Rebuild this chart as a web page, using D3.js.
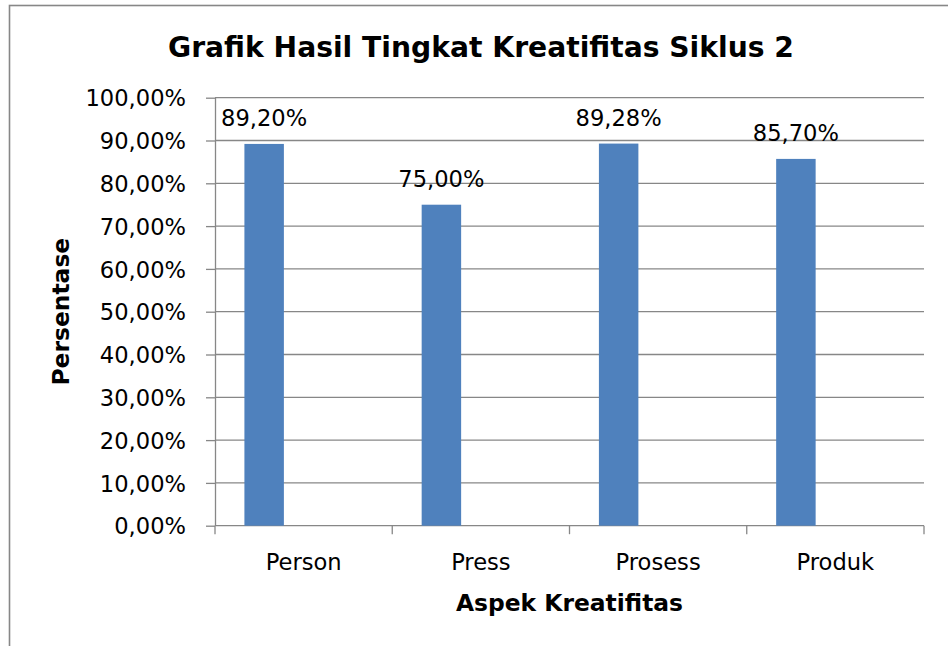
<!DOCTYPE html>
<html>
<head>
<meta charset="utf-8">
<script src="https://cdn.jsdelivr.net/npm/d3@7"></script>
<style>
  body { margin: 0; background: #fff; }
  svg { display: block; }
</style>
</head>
<body>
<svg width="948" height="646"></svg>
<script>
// data
let categories = ["Person", "Press", "Prosess", "Produk"];
let values = [89.20, 75.00, 89.28, 85.70];
let seriesSlots = ["Siklus 2", "s2", "s3"]; // excel kept 3 series slots, only the first has data
let yTicks = [0, 10, 20, 30, 40, 50, 60, 70, 80, 90, 100];

let title = "Grafik Hasil Tingkat Kreatifitas Siklus 2";
let xTitle = "Aspek Kreatifitas";
let yTitle = "Persentase";

let margin = { top: 97.7, right: 24, bottom: 120.3, left: 215 };
let svg = d3.select("svg");
let W = 948, H = 646;
let plotW = W - margin.left - margin.right;
let plotH = H - margin.top - margin.bottom;

let idLocale = d3.formatLocale({ decimal: ",", thousands: ".", grouping: [3], currency: ["", ""] });
let fmt = idLocale.format(".2f");
let pct = d => fmt(d) + "%";

let gridColor = "#878787";
let font = "'DejaVu Sans', Verdana, sans-serif";

// outer chart frame (runs off the right and bottom edge)
svg.append("rect")
  .attr("x", 9.5).attr("y", 5.5)
  .attr("width", 960).attr("height", 700)
  .attr("fill", "none")
  .attr("stroke", gridColor)
  .attr("stroke-width", 1.6);

let x0 = d3.scaleBand().domain(categories).range([0, plotW]).paddingInner(0).paddingOuter(0);
let x1 = d3.scaleBand().domain(seriesSlots).range([0, x0.bandwidth()]).paddingInner(0).paddingOuter(0.745);
let y = d3.scaleLinear().domain([0, 100]).range([plotH, 0]);

let g = svg.append("g").attr("transform", "translate(" + margin.left + "," + margin.top + ")");

// gridlines
g.selectAll("line.grid")
  .data(yTicks.filter(d => d > 0))
  .enter().append("line")
  .attr("class", "grid")
  .attr("x1", 0).attr("x2", plotW)
  .attr("y1", d => y(d)).attr("y2", d => y(d))
  .attr("stroke", gridColor)
  .attr("stroke-width", 1.3);

// y axis
let yAxis = g.append("g").call(d3.axisLeft(y).tickValues(yTicks).tickSize(9).tickPadding(20).tickFormat(pct));
yAxis.select(".domain").attr("stroke", gridColor).attr("stroke-width", 1.3).attr("d", "M0.5," + y(100) + "V" + y(0));
yAxis.selectAll(".tick line").attr("stroke", gridColor).attr("stroke-width", 1.3);
yAxis.selectAll(".tick text")
  .attr("font-family", font).attr("font-size", 22.6).attr("fill", "#000")
  .attr("dy", "0.36em");

// x axis
let boundaries = categories.map(c => x0(c)).concat([plotW]);
let xAxisG = g.append("g").attr("transform", "translate(0," + plotH + ")");
xAxisG.append("line")
  .attr("x1", 0).attr("x2", plotW).attr("y1", 0).attr("y2", 0)
  .attr("stroke", gridColor).attr("stroke-width", 1.3);
xAxisG.selectAll("line.tick")
  .data(boundaries)
  .enter().append("line")
  .attr("class", "tick")
  .attr("x1", d => d).attr("x2", d => d)
  .attr("y1", 0).attr("y2", 8.5)
  .attr("stroke", gridColor).attr("stroke-width", 1.3);
xAxisG.selectAll("text.cat")
  .data(categories)
  .enter().append("text")
  .attr("class", "cat")
  .attr("x", d => x0(d) + x0.bandwidth() / 2)
  .attr("y", 44.5)
  .attr("text-anchor", "middle")
  .attr("font-family", font).attr("font-size", 22.6)
  .text(d => d);

// bars
g.selectAll("rect.bar")
  .data(values)
  .enter().append("rect")
  .attr("class", "bar")
  .attr("x", (d, i) => x0(categories[i]) + x1(seriesSlots[0]))
  .attr("width", x1.bandwidth())
  .attr("y", d => y(d))
  .attr("height", d => plotH - y(d))
  .attr("fill", "#4F81BD");

// data labels
g.selectAll("text.lbl")
  .data(values)
  .enter().append("text")
  .attr("class", "lbl")
  .attr("x", (d, i) => x0(categories[i]) + x1(seriesSlots[0]) + x1.bandwidth() / 2)
  .attr("y", d => y(d) - 18)
  .attr("text-anchor", "middle")
  .attr("font-family", font).attr("font-size", 22.6)
  .text(d => pct(d));

// titles
svg.append("text")
  .attr("x", 481).attr("y", 57)
  .attr("text-anchor", "middle")
  .attr("font-family", font).attr("font-weight", "bold").attr("font-size", 28.2)
  .text(title);

svg.append("text")
  .attr("x", margin.left + plotW / 2).attr("y", 611)
  .attr("text-anchor", "middle")
  .attr("font-family", font).attr("font-weight", "bold").attr("font-size", 23.4)
  .text(xTitle);

svg.append("text")
  .attr("transform", "translate(69," + (margin.top + plotH / 2) + ") rotate(-90)")
  .attr("text-anchor", "middle")
  .attr("font-family", font).attr("font-weight", "bold").attr("font-size", 23.4)
  .text(yTitle);
</script>
</body>
</html>
